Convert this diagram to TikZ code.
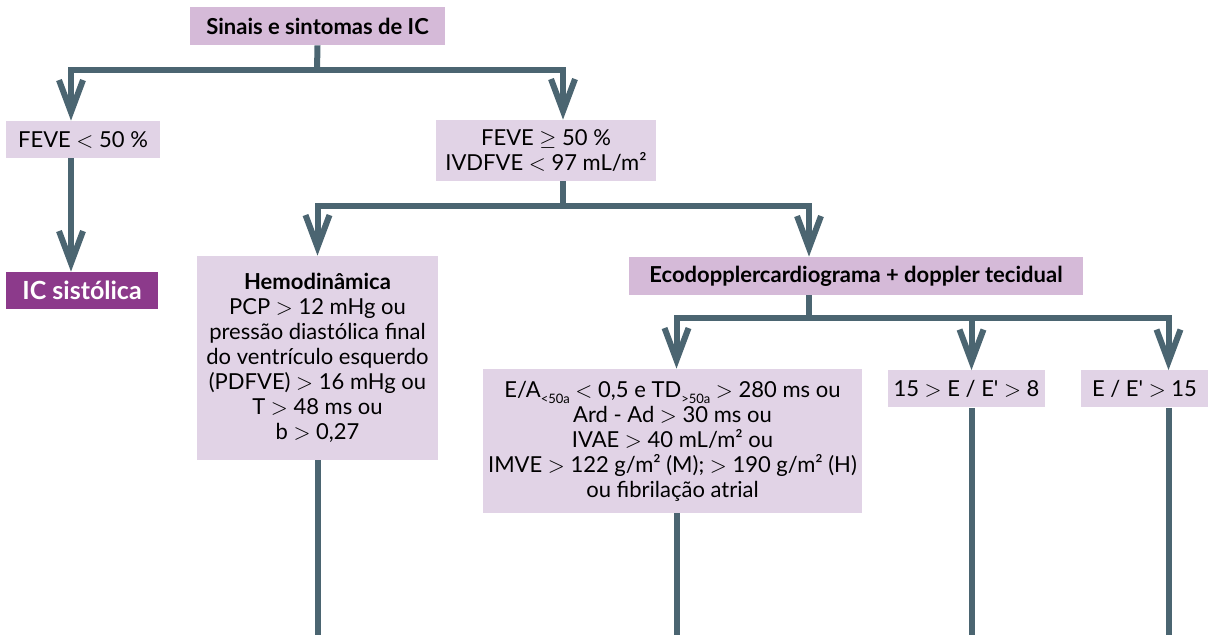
\documentclass[tikz,border=0pt]{standalone}
\usepackage{fontspec}
\setmainfont{Lato}
\usetikzlibrary{arrows.meta}

\definecolor{boxlight}{HTML}{E1D3E6}
\definecolor{boxdark}{HTML}{D5BAD8}
\definecolor{purplefill}{HTML}{8C3A8B}
\definecolor{linkgray}{HTML}{4B6571}

\tikzset{
  every node/.style={font=\fontsize{11}{12.5}\selectfont, inner sep=0pt, align=center},
  lbox/.style={fill=boxlight, text=black},
  dbox/.style={fill=boxdark, text=black, font=\fontsize{11}{12.5}\selectfont\bfseries},
  pbox/.style={fill=purplefill, text=white, font=\fontsize{12.5}{14}\selectfont\bfseries},
  link/.style={draw=linkgray, line width=3pt},
  arr/.style={link, -{Straight Barb[length=16pt,width=12pt]}}
}

\newcommand{\sbs}[1]{\raisebox{-0.55ex}{\fontsize{6.5}{7}\selectfont #1}}
\newcommand{\lt}{$<$}
\newcommand{\gt}{$>$}
\newcommand{\pr}{\textquotesingle}

\begin{document}
\begin{tikzpicture}[x=0.5pt, y=-0.5pt]
\useasboundingbox (0,0) rectangle (1210,635);

\node[dbox, minimum width=127.5pt, minimum height=19pt] (title) at (317.5,26) {Sinais e sintomas de IC};
\node[lbox, minimum width=77pt, minimum height=18.5pt] (feveA) at (83,139.5) {FEVE \lt{} 50 \%};
\node[lbox, minimum width=110pt, minimum height=30.5pt] (feveB) at (546,150.5) {FEVE $\geq$ 50 \%\\IVDFVE \lt{} 97 mL/m²};
\node[pbox, minimum width=76pt, minimum height=18.5pt] (sist) at (82,290.5) {IC sistólica};
\node[lbox, minimum width=120.5pt, minimum height=102pt] (hemo) at (317.5,358)
  {\textbf{Hemodinâmica}\\PCP \gt{} 12 mHg ou\\pressão diastólica final\\do ventrículo esquerdo\\(PDFVE) \gt{} 16 mHg ou\\T \gt{} 48 ms ou\\b \gt{} 0,27};
\node[dbox, minimum width=227pt, minimum height=19pt] (eco) at (856,276) {Ecodopplercardiograma + doppler tecidual};
\node[lbox, minimum width=189.5pt, minimum height=72pt] (ea) at (672.5,441)
  {E/A\sbs{<50a} \lt{} 0,5 e TD\sbs{>50a} \gt{} 280 ms ou\\Ard - Ad \gt{} 30 ms ou\\IVAE \gt{} 40 mL/m² ou\\IMVE \gt{} 122 g/m² (M); \gt{} 190 g/m² (H)\\ou fibrilação atrial};
\node[lbox, minimum width=78.5pt, minimum height=18.5pt] (eA) at (966.5,389) {15 \gt{} E / E\pr{} \gt{} 8};
\node[lbox, minimum width=63.5pt, minimum height=18.5pt] (eB) at (1144.5,389) {E / E\pr{} \gt{} 15};

\coordinate (j1) at (317,70);
\coordinate (j2) at (563,206);
\coordinate (j3) at (809,318);
\coordinate (bot) at (0,650);

\draw[link] (title.south) -- (j1);
\draw[arr] (j1) -| ([xshift=-6pt]feveA.north);
\draw[arr] (j1) -| ([xshift=8.5pt]feveB.north);
\draw[arr] ([xshift=-6pt]feveA.south) -- ([xshift=-5.5pt]sist.north);

\draw[link] ([xshift=8.5pt]feveB.south) -- (j2);
\draw[arr] (j2) -| (hemo.north);
\draw[arr] (j2) -| ([xshift=-23.5pt]eco.north);

\draw[link] ([xshift=-23.5pt]eco.south) -- (j3);
\draw[arr] (j3) -| ([xshift=2pt]ea.north);
\draw[arr] (j3) -| ([xshift=2.5pt]eA.north);
\draw[arr] (j3) -| ([xshift=12pt]eB.north);

\draw[link] (hemo.south) -- (hemo.south |- bot);
\draw[link] ([xshift=2pt]ea.south) -- ([xshift=2pt]ea.south |- bot);
\draw[link] ([xshift=2.5pt]eA.south) -- ([xshift=2.5pt]eA.south |- bot);
\draw[link] ([xshift=12pt]eB.south) -- ([xshift=12pt]eB.south |- bot);
\end{tikzpicture}
\end{document}
